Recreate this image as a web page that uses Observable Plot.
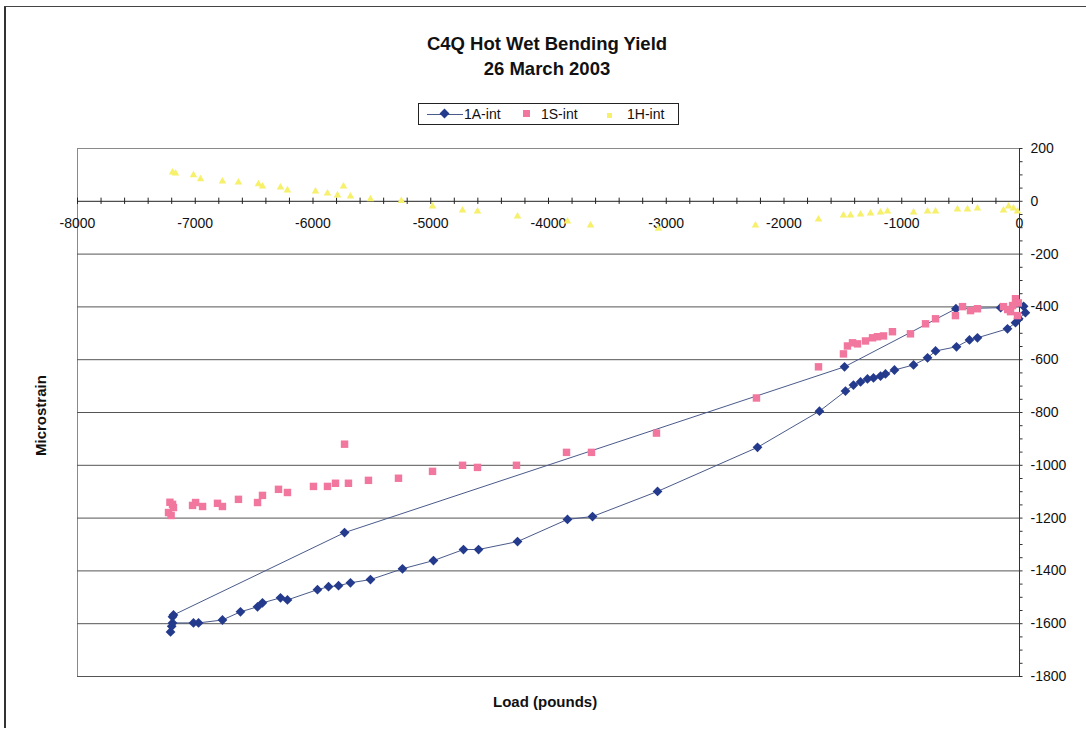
<!DOCTYPE html>
<html>
<head>
<meta charset="utf-8">
<script src="https://cdn.jsdelivr.net/npm/d3@7"></script>
<script src="https://cdn.jsdelivr.net/npm/@observablehq/plot@0.6"></script>
<style>
  html, body { margin: 0; padding: 0; background: #fff; }
  #wrap { position: relative; width: 1086px; height: 734px; font-family: Arial, "Liberation Sans", sans-serif; overflow: hidden; }
  #chart { position: absolute; left: 0; top: 0; }
  .title { position: absolute; left: 0; width: 1094px; text-align: center; font-weight: bold; font-size: 18.5px; color: #111; }
  #legend { position: absolute; left: 418px; top: 103px; width: 259px; height: 20px; border: 1px solid #222; font-size: 14px; color: #111; }
  #legend span { position: absolute; top: 2px; }
  #legend i { position: absolute; display: block; }
  .frame-l { position: absolute; left: 4px; top: 6px; width: 2px; height: 722px; background: #333; }
  .frame-t { position: absolute; left: 4px; top: 6px; width: 1082px; height: 1px; background: #444; }
  .axlabel { position: absolute; font-weight: bold; font-size: 15px; color: #111; }
</style>
</head>
<body>
<div id="wrap">
  <div id="chart"></div>
  <div class="frame-l"></div>
  <div class="frame-t"></div>
  <div class="title" style="top:33px">C4Q Hot Wet Bending Yield</div>
  <div class="title" style="top:58px">26 March 2003</div>
  <div id="legend">
    <i style="left:8px;top:10px;width:36px;height:1px;background:#4a5a8a"></i>
    <i style="left:22px;top:6px;width:7px;height:7px;background:#243a8c;transform:rotate(45deg)"></i>
    <span style="left:45px">1A-int</span>
    <i style="left:104px;top:6px;width:7px;height:7px;background:#f2779e"></i>
    <span style="left:122px">1S-int</span>
    <i style="left:188px;top:9px;width:5px;height:5px;background:#f6f06a"></i>
    <span style="left:208px">1H-int</span>
  </div>
  <div class="axlabel" style="left:493px;top:693px">Load (pounds)</div>
  <div class="axlabel" style="left:32px;top:456px;transform:rotate(-90deg);transform-origin:0 0">Microstrain</div>
</div>
<script>
// ---- Data (load in pounds, microstrain) ----
// 1A-int: connected in test order (loading along lower path, unloading along upper path)
const loadA = [-8, -34, -102, -357, -425, -535, -713, -781, -900, -1062, -1138, -1180, -1240, -1291, -1350, -1410, -1478, -1699, -2225, -3074, -3626, -3839, -4263, -4594, -4722, -4977, -5240, -5512, -5682, -5783, -5868, -5962, -6217, -6276, -6429, -6471, -6616, -6769, -6972, -7015, -7193, -7210, -7200, -7193, -7185, -5732, -1486, -540, -160, 35, 50, -8];
const strainA = [-445, -460, -483, -517, -525, -551, -567, -593, -620, -639, -654, -662, -669, -673, -684, -696, -719, -795, -932, -1099, -1194, -1205, -1289, -1319, -1319, -1361, -1392, -1433, -1445, -1456, -1460, -1471, -1510, -1502, -1521, -1536, -1555, -1586, -1597, -1597, -1597, -1631, -1610, -1574, -1567, -1255, -627, -407, -403, -398, -422, -445];

const loadS = [-5732, -4985, -5274, -5529, -5699, -5809, -5877, -5996, -6217, -6293, -6429, -6471, -6633, -6769, -6811, -6938, -6997, -7023, -7193, -7227, -7185, -7205, -7215, -4730, -4603, -4272, -3847, -3635, -3083, -2234, -1707, -1495, -1461, -1418, -1376, -1308, -1248, -1206, -1155, -1079, -926, -798, -713, -544, -484, -416, -357, -136, -76, -34, -59, -17, -100, -10];
const strainS = [-920, -1023, -1049, -1057, -1068, -1068, -1080, -1080, -1103, -1091, -1114, -1141, -1129, -1156, -1144, -1156, -1141, -1152, -1148, -1179, -1160, -1190, -1140, -1000, -1008, -1000, -951, -951, -878, -745, -627, -578, -548, -536, -540, -529, -517, -513, -510, -494, -502, -464, -445, -433, -399, -414, -407, -399, -418, -369, -395, -433, -410, -385];

const loadH = [-7193, -7168, -7015, -6955, -6769, -6633, -6463, -6429, -6276, -6217, -5979, -5877, -5792, -5741, -5682, -5512, -5250, -4985, -4730, -4603, -4263, -3839, -3643, -3066, -2242, -1707, -1495, -1435, -1350, -1265, -1180, -1121, -900, -781, -713, -527, -442, -357, -136, -93, -51, -17];
const strainH = [110, 106, 99, 84, 76, 72, 65, 57, 53, 42, 38, 30, 23, 57, 19, 8, 2, -19, -34, -38, -57, -76, -91, -103, -91, -68, -53, -53, -49, -46, -42, -38, -42, -38, -38, -30, -30, -27, -34, -19, -27, -38];

const xTickLabels = [-8000, -7000, -6000, -5000, -4000, -3000, -2000, -1000, 0];
const yTickLabels = [200, 0, -200, -400, -600, -800, -1000, -1200, -1400, -1600, -1800];

// ---- Tables ----
const A = loadA.map((x, i) => ({x, y: strainA[i]}));
const S = loadS.map((x, i) => ({x, y: strainS[i]}));
const H = loadH.map((x, i) => ({x, y: strainH[i]}));
const xMinor = d3.range(-8000, 1, 200);
const yMinor = d3.range(-1800, 201, 50);
const gridY = yTickLabels.filter(v => v < 0);

const chart = Plot.plot({
  width: 1086,
  height: 734,
  marginLeft: 77,
  marginRight: 67,
  marginTop: 148,
  marginBottom: 58,
  x: {domain: [-8000, 0], axis: null},
  y: {domain: [-1800, 200], axis: null},
  style: {fontFamily: "Arial, 'Liberation Sans', sans-serif", fontSize: "14px", color: "#111", background: "transparent"},
  marks: [
    Plot.frame({stroke: "#8a8a8a"}),
    Plot.ruleY(gridY, {stroke: "#555", strokeWidth: 1}),
    // x axis at y = 0
    Plot.ruleY([0], {stroke: "#222", strokeWidth: 1}),
    Plot.ruleX(xMinor, {x: d => d, y1: -12, y2: 12, stroke: "#222"}),
    Plot.text(xTickLabels, {x: d => d, y: 0, dy: 22, text: d => String(d), fill: "#111", fontSize: 14}),
    // y axis at x = 0 (right)
    Plot.ruleX([0], {stroke: "#333"}),
    Plot.ruleY(yMinor, {y: d => d, x1: 0, x2: 30, stroke: "#333"}),
    Plot.text(yTickLabels, {x: 0, y: d => d, dx: 11, text: d => String(d), textAnchor: "start", fill: "#111", fontSize: 14}),
    // series (Excel order: 1A, then 1S, then 1H on top)
    Plot.line(A, {x: "x", y: "y", stroke: "#4a5a8a", strokeWidth: 1, curve: "linear"}),
    Plot.dot(A, {x: "x", y: "y", symbol: "diamond2", r: 4.4, fill: "#243a8c"}),
    Plot.dot(S, {x: "x", y: "y", symbol: "square", r: 4.2, fill: "#f2779e"}),
    Plot.dot(H, {x: "x", y: "y", symbol: "triangle", r: 2.8, fill: "#f6f06a"})
  ]
});
document.getElementById("chart").appendChild(chart);
</script>
</body>
</html>
